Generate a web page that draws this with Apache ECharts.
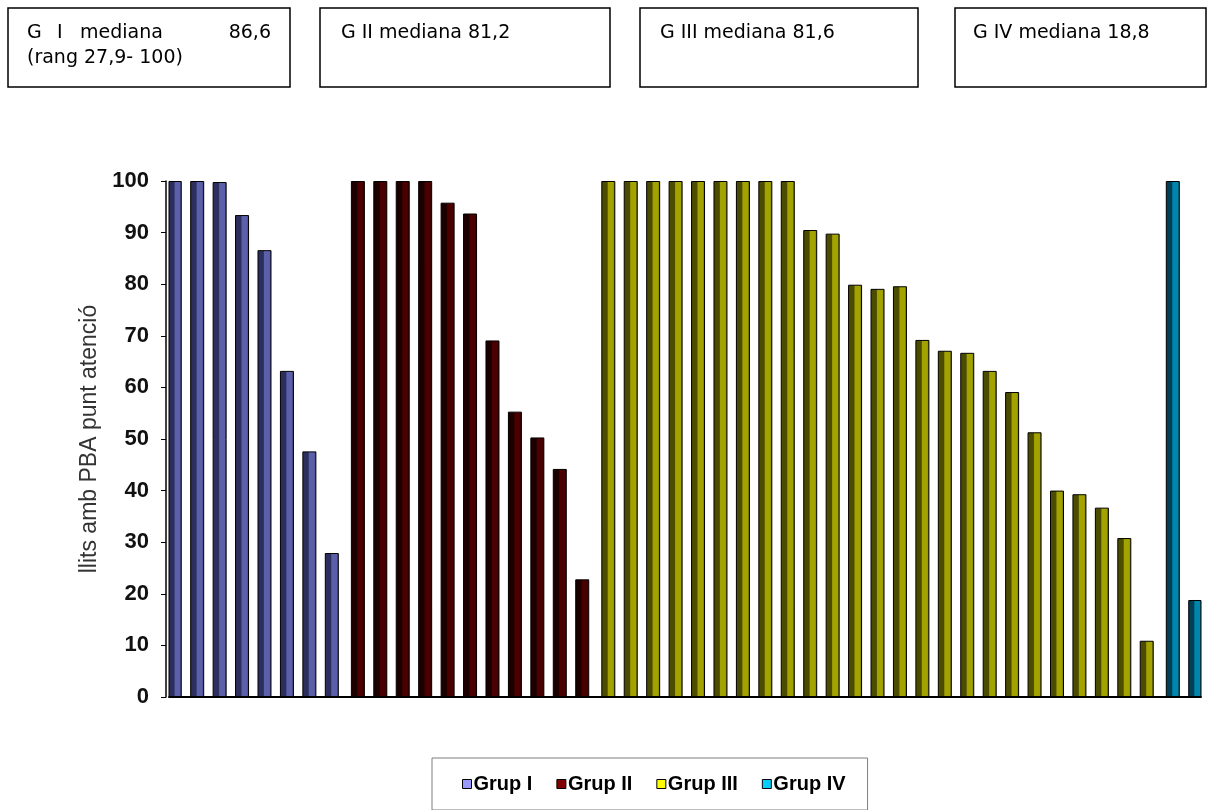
<!DOCTYPE html>
<html><head><meta charset="utf-8">
<script src="https://cdn.jsdelivr.net/npm/echarts@6/dist/echarts.min.js"></script>
<style>html,body{margin:0;padding:0;background:#fff}#c{width:1209px;height:810px}</style>
</head><body><div id="c"></div>
<script>
// ---- data ----
const groupNames = ['Grup I', 'Grup II', 'Grup III', 'Grup IV'];
const grupI   = [100, 100, 99.8, 93.4, 86.6, 63.2, 47.6, 27.9];
const grupII  = [100, 100, 100, 100, 95.8, 93.7, 69.1, 55.3, 50.3, 44.2, 22.8];
const grupIII = [100, 100, 100, 100, 100, 100, 100, 100, 100, 90.5, 89.8, 79.9, 79.1, 79.6,
                 69.2, 67.1, 66.7, 63.2, 59.1, 51.3, 40.0, 39.3, 36.7, 30.8, 10.9];
const grupIV  = [100, 18.8];
const yTicks = [0, 10, 20, 30, 40, 50, 60, 70, 80, 90, 100];
const yAxisTitle = 'llits amb PBA punt atenció';
const box1Words = ['G', 'I', 'mediana', '86,6'];
const box1Line2 = '(rang 27,9- 100)';
const boxTexts = ['G II mediana 81,2', 'G III mediana 81,6', 'G IV mediana 18,8'];

// ---- build ----
const groups = [grupI, grupII, grupIII, grupIV];
const total = groups.reduce((s, g) => s + g.length, 0);
const categories = Array.from({length: total}, (_, i) => String(i + 1));
const lightCols = ['#5c60aa', '#4a0000', '#a2a200', '#0085ad'];
const darkCols  = ['#2c2e5e', '#1c0000', '#4c4c00', '#003f55'];
const legendCols = ['#9999ff', '#800000', '#ffff00', '#00ccff'];

let start = 0;
const series = groups.map((g, gi) => {
  const data = categories.map(() => '-');
  g.forEach((v, k) => { data[start + k] = v; });
  start += g.length;
  return {
    name: groupNames[gi],
    type: 'bar',
    data,
    barWidth: 14,
    barGap: '-74%',
    itemStyle: {
      color: new echarts.graphic.LinearGradient(0, 0, 1, 0, [
        {offset: 0, color: darkCols[gi]},
        {offset: 0.42, color: darkCols[gi]},
        {offset: 0.5, color: lightCols[gi]},
        {offset: 0.85, color: lightCols[gi]},
        {offset: 1, color: darkCols[gi]}
      ]),
      borderColor: '#000',
      borderWidth: 1
    }
  };
});

const boxFont = '19px "DejaVu Sans", Verdana, sans-serif';
const txt = (x, y, t, align) => ({type: 'text', x, y,
  style: {text: t, font: boxFont, fill: '#000', verticalAlign: 'middle', align: align || 'left'}});
const rect = (x, w) => ({type: 'rect', shape: {x, y: 8, width: w, height: 79},
  style: {fill: '#fff', stroke: '#000', lineWidth: 1.5}});
const graphic = [
  rect(8, 282), rect(320, 290), rect(640, 278), rect(955, 251),
  txt(27, 33, box1Words[0]), txt(57, 33, box1Words[1]), txt(80, 33, box1Words[2]), txt(271, 33, box1Words[3], 'right'),
  txt(27, 58, box1Line2),
  txt(341, 33, boxTexts[0]), txt(660, 33, boxTexts[1]), txt(973, 33, boxTexts[2])
];

const chart = echarts.init(document.getElementById('c'), null, {renderer: 'canvas'});
chart.setOption({
  animation: false,
  backgroundColor: '#fff',
  graphic,
  grid: {left: 169, right: 8, top: 181, height: 516, containLabel: false},
  legend: {
    left: 432, top: 758,
    padding: [16, 22, 16, 30],
    itemGap: 24, itemWidth: 9, itemHeight: 9,
    borderColor: '#7f7f7f', borderWidth: 1,
    selectedMode: false,
    data: groupNames.map((n, i) => ({name: n, icon: 'rect',
      itemStyle: {color: legendCols[i], borderColor: '#000', borderWidth: 1}})),
    textStyle: {fontFamily: '"Liberation Sans", Arial, sans-serif', fontWeight: 'bold', fontSize: 20, color: '#000', padding: [0, 0, 0, -3]}
  },
  xAxis: {
    type: 'category', data: categories,
    axisLine: {lineStyle: {color: '#000', width: 2}},
    axisTick: {show: false}, axisLabel: {show: false}, splitLine: {show: false}
  },
  yAxis: {
    type: 'value', min: 0, max: 100, interval: 10, offset: 3,
    name: yAxisTitle, nameLocation: 'middle', nameGap: 61, nameRotate: 90,
    nameTextStyle: {fontFamily: '"Liberation Sans", Arial, sans-serif', fontSize: 23, color: '#333'},
    axisLine: {show: true, lineStyle: {color: '#000', width: 1.5}},
    axisTick: {show: true, length: 5, lineStyle: {color: '#000'}},
    axisLabel: {fontFamily: '"Liberation Sans", Arial, sans-serif', fontWeight: 'bold', fontSize: 22, color: '#111', margin: 17,
      formatter: v => yTicks.includes(v) ? String(v) : ''},
    splitLine: {show: false}
  },
  series
});
</script>
</body></html>
